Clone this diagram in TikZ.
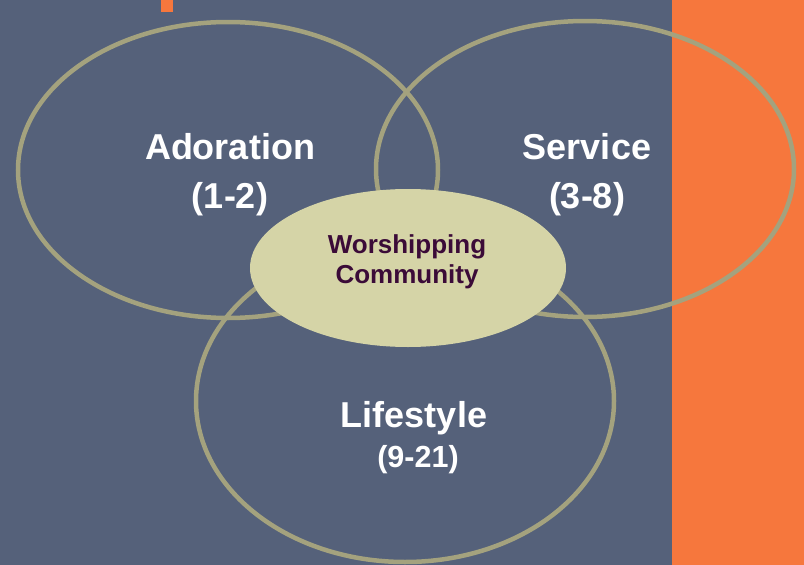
\documentclass[tikz,border=0pt]{standalone}
\usepackage{fontspec}
\setmainfont{Liberation Sans}
\usepackage{xcolor}
\usepackage{tikz}
\usetikzlibrary{positioning}
\definecolor{slate}{RGB}{85,97,122}
\definecolor{orangebar}{RGB}{246,119,61}
\definecolor{ringline}{RGB}{164,162,126}
\definecolor{corefill}{RGB}{213,212,167}
\definecolor{coretext}{RGB}{59,11,56}
\tikzset{
	ring/.style={draw=ringline,line width=4.5pt},
	biglabel/.style={anchor=base,text=white,font=\bfseries\fontsize{36}{40}\selectfont},
	smalllabel/.style={anchor=base,text=white,font=\bfseries\fontsize{30.5}{34}\selectfont},
	corelabel/.style={anchor=base,text=coretext,font=\bfseries\fontsize{26}{30}\selectfont}
}
\begin{document}
\begin{tikzpicture}[x=1pt,y=-1pt]
		\fill[slate] (0,0) rectangle (804,565);
		\useasboundingbox (0,0) rectangle (804,565);
		\fill[orangebar] (672,0) rectangle (804,565);
		\fill[orangebar] (161,0) rectangle (173,12);
		% three rings
		\draw[ring] (228,170) ellipse (210 and 148);
		\draw[ring] (585,169) ellipse (209 and 148);
		\draw[ring] (405,401) ellipse (209 and 161);
		% centre
		\fill[corefill] (408,268) ellipse (158 and 79);
		\node[corelabel] (worship) at (407,253) {Worshipping};
		\node[corelabel] (community) at (407,283) {Community};
		\node[biglabel] (adoration) at (230,159) {Adoration};
		\node[biglabel] (adorationref) at (230,208) {(1-2)};
		\node[biglabel] (service) at (587,159) {Service};
		\node[biglabel] (serviceref) at (587,208) {(3-8)};
		\node[biglabel] (lifestyle) at (414,427) {Lifestyle};
		\node[smalllabel] (lifestyleref) at (418,467) {(9-21)};
	\end{tikzpicture}
\end{document}
